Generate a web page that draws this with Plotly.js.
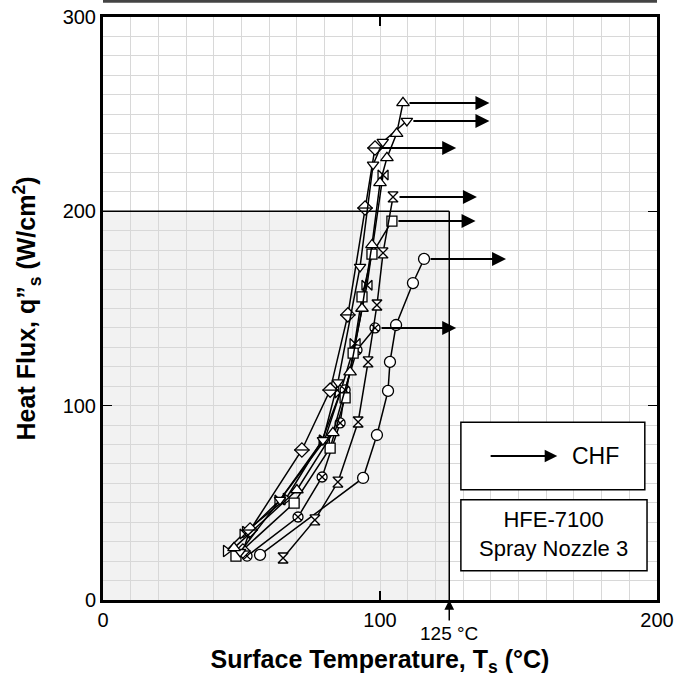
<!DOCTYPE html>
<html>
<head>
<meta charset="utf-8">
<script src="https://cdn.plot.ly/plotly-3.0.1.min.js"></script>
<style>html,body{margin:0;padding:0;background:#fff}#chart{width:679px;height:683px}</style>
</head>
<body>
<div id="chart"></div>
<script>
// ---- data ----
const triUpX   = [47.3, 70.0, 83.0, 89.2, 93.5, 97.1, 100.0, 102.5, 106.0, 108.3];
const triUpY   = [26.8, 56.6, 86.0, 117.3, 150.0, 182.7, 214.6, 227.5, 240.0, 255.8];
const triDownX = [49.5, 63.9, 79.4, 84.8, 92.8, 97.5, 101.0, 109.7];
const triDownY = [24.7, 51.5, 82.3, 112.0, 171.4, 224.0, 235.7, 246.5];
const diamondX = [50.5, 53.1, 71.8, 82.0, 88.4, 94.6, 98.2];
const diamondY = [25.2, 36.0, 77.2, 108.0, 146.7, 201.7, 232.6];
const hourX    = [65.0, 76.5, 84.8, 92.1, 95.7, 98.9, 101.1, 104.7];
const hourY    = [21.6, 41.2, 60.7, 91.6, 122.5, 151.8, 178.6, 207.4];
const squareX  = [48.0, 69.0, 82.0, 87.4, 90.3, 93.5, 97.1, 104.3];
const squareY  = [22.6, 49.9, 78.2, 104.0, 127.0, 156.0, 178.0, 195.0];
const circleX  = [56.7, 93.9, 98.9, 102.9, 103.6, 105.8, 111.9, 115.9];
const circleY  = [23.2, 62.8, 84.9, 107.6, 122.5, 141.5, 163.1, 175.5];
const cxX      = [52.0, 70.4, 79.1, 85.6, 87.4, 91.7, 98.2];
const cxY      = [22.6, 42.7, 63.3, 91.1, 108.1, 128.7, 140.0];
const bowX     = [51.3, 63.9, 79.9, 85.6, 91.0, 95.3, 101.1];
const bowY     = [34.0, 51.5, 82.0, 106.5, 132.0, 162.0, 218.7];
const triRX    = [44.4, 51.3, 66.0, 79.0, 86.0];
const triRY    = [25.2, 35.0, 52.0, 82.0, 108.0];

// CHF arrows: start temperature, heat flux, arrow tip temperature
const chfStartX = [108.3, 109.7, 98.2, 104.7, 104.3, 115.9, 98.2];
const chfY      = [255.8, 246.5, 232.6, 207.4, 195.0, 175.5, 140.0];
const chfEndX   = [139.5, 139.5, 127.5, 135.0, 134.5, 145.5, 127.5];

const xTicks = [0, 100, 200];
const yTicks = [0, 100, 200, 300];
const limitT = 125;   // °C
const limitQ = 200;   // W/cm2

// ---- traces ----
function series(x, y, symbol, size) {
  return {
    x: x, y: y, type: 'scatter', mode: 'lines+markers',
    line: {color: '#000', width: 1.5},
    marker: {symbol: symbol, size: size || 10, color: '#fff', line: {color: '#000', width: 1.3}},
    showlegend: false, hoverinfo: 'skip'
  };
}
const traces = [
  series(triRX, triRY, 'triangle-right', 10),
  series(bowX, bowY, 'bowtie', 10),
  series(cxX, cxY, 'circle-x', 10),
  series(circleX, circleY, 'circle', 11),
  series(squareX, squareY, 'square', 10),
  series(hourX, hourY, 'hourglass', 10),
  series(diamondX, diamondY, 'diamond', 11),
  {x: diamondX, y: diamondY, type: 'scatter', mode: 'markers',
   marker: {symbol: 'line-ew', size: 11, color: '#000', line: {color: '#000', width: 1.3}},
   showlegend: false, hoverinfo: 'skip'},
  series(triDownX, triDownY, 'triangle-down', 10),
  series(triUpX, triUpY, 'triangle-up', 11)
];

const FF = 'Liberation Sans, Arial, Helvetica, sans-serif';

// ---- annotations ----
const annotations = [];
for (let i = 0; i < chfY.length; i++) {
  annotations.push({
    x: chfEndX[i], y: chfY[i], ax: chfStartX[i], ay: chfY[i],
    xref: 'x', yref: 'y', axref: 'x', ayref: 'y',
    showarrow: true, arrowhead: 2, arrowsize: 1.4, arrowwidth: 2, arrowcolor: '#000',
    startstandoff: 5, text: ''
  });
}
// 125 °C marker arrow below axis
annotations.push({
  x: limitT, y: 0, xref: 'x', yref: 'y', ax: 0, ay: 22,
  showarrow: true, arrowhead: 2, arrowsize: 1.3, arrowwidth: 1.5, arrowcolor: '#000', text: ''
});
annotations.push({
  x: limitT, y: 0, xref: 'x', yref: 'y', xanchor: 'center', yanchor: 'middle', yshift: -33, showarrow: false,
  text: limitT + ' °C', font: {family: FF, size: 19, color: '#000'}
});
// legend box 1 content
annotations.push({
  x: 0.82, y: 0.247, xref: 'paper', yref: 'paper', ax: 0.697, ay: 0.247, axref: 'paper', ayref: 'paper',
  showarrow: true, arrowhead: 2, arrowsize: 1.4, arrowwidth: 1.8, arrowcolor: '#000', text: ''
});
annotations.push({
  x: 0.843, y: 0.247, xref: 'paper', yref: 'paper', xanchor: 'left', yanchor: 'middle', showarrow: false,
  text: 'CHF', font: {family: FF, size: 23, color: '#000'}
});
annotations.push({
  x: 0.814, y: 0.113, xref: 'paper', yref: 'paper', xanchor: 'center', yanchor: 'middle', showarrow: false,
  text: 'HFE-7100<br>Spray Nozzle 3', align: 'center',
  font: {family: FF, size: 22, color: '#000'}
});

// ---- shapes ----
const shapes = [
  {type: 'rect', xref: 'x', yref: 'y', x0: 0, x1: limitT, y0: 0, y1: limitQ,
   fillcolor: 'rgba(0,0,0,0.05)', line: {width: 0}, layer: 'below'},
  {type: 'line', xref: 'x', yref: 'y', x0: 0, x1: limitT, y0: limitQ, y1: limitQ,
   line: {color: '#000', width: 1.5}},
  {type: 'line', xref: 'x', yref: 'y', x0: limitT, x1: limitT, y0: 0, y1: limitQ,
   line: {color: '#000', width: 1.5}},
  {type: 'rect', xref: 'paper', yref: 'paper', x0: 0.646, x1: 0.978, y0: 0.189, y1: 0.305,
   fillcolor: '#fff', line: {color: '#000', width: 1.5}},
  {type: 'rect', xref: 'paper', yref: 'paper', x0: 0.646, x1: 0.982, y0: 0.05, y1: 0.172,
   fillcolor: '#fff', line: {color: '#000', width: 1.5}},
  {type: 'line', xref: 'paper', yref: 'paper', x0: 0, x1: 1, y0: 1.027, y1: 1.027,
   line: {color: '#444', width: 3}}
];

const layout = {
  width: 679, height: 683,
  margin: {l: 103, r: 22, t: 17, b: 83},
  paper_bgcolor: '#fff', plot_bgcolor: '#fff',
  font: {family: FF, color: '#000'},
  showlegend: false,
  xaxis: {
    range: [0, 200], tickvals: xTicks, ticktext: xTicks.map(String),
    showgrid: true, gridcolor: '#d8d8d8', gridwidth: 1,
    minor: {dtick: 10, showgrid: true, gridcolor: '#d8d8d8', gridwidth: 1},
    ticks: 'inside', ticklen: 9, tickwidth: 1.5, tickcolor: '#000',
    showline: true, linecolor: '#000', linewidth: 3, mirror: 'ticks',
    zeroline: false, tickfont: {family: FF, size: 20, color: '#000'},
    title: {text: '<b>Surface Temperature, T<sub>s</sub> (°C)</b>', font: {family: FF, size: 25, color: '#000'}, standoff: 21}
  },
  yaxis: {
    range: [0, 300], tickvals: yTicks, ticktext: yTicks.map(String),
    showgrid: true, gridcolor: '#d8d8d8', gridwidth: 1,
    minor: {dtick: 10, showgrid: true, gridcolor: '#d8d8d8', gridwidth: 1},
    ticks: 'inside', ticklen: 9, tickwidth: 1.5, tickcolor: '#000',
    showline: true, linecolor: '#000', linewidth: 3, mirror: 'ticks',
    zeroline: false, tickfont: {family: FF, size: 20, color: '#000'},
    title: {text: '<b>Heat Flux, q\u201D<sub>s</sub> (W/cm<sup>2</sup>)</b>', font: {family: FF, size: 25, color: '#000'}, standoff: 20}
  },
  shapes: shapes,
  annotations: annotations
};
Plotly.newPlot('chart', traces, layout, {staticPlot: true, displayModeBar: false});
</script>
</body>
</html>
